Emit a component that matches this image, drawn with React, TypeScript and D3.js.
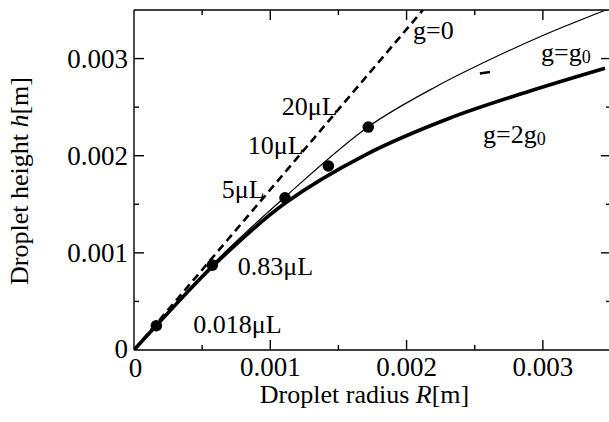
import React from "react";
import * as d3 from "d3";

// ---- data ----
const majorTicks = [0.001, 0.002, 0.003];
const minorTicks = [0.0005, 0.0015, 0.0025];
const tickLabels = ["0.001", "0.002", "0.003"];

// g = 0 (spherical cap, straight line)
const gZeroR = [0, 0.00212];
const gZeroH = [0, 0.0035];

// g = g0 (thin)
const gOneR = [0, 0.000161, 0.000572, 0.001108, 0.001717, 0.002245, 0.002575, 0.002979, 0.003471];
const gOneH = [0, 0.000247, 0.000875, 0.001575, 0.002296, 0.002733, 0.002965, 0.003225, 0.003505];

// g = 2g0 (thick)
const gTwoR = [0, 0.000161, 0.00058, 0.0011, 0.001695, 0.002319, 0.002884, 0.003456];
const gTwoH = [0, 0.000247, 0.000865, 0.001503, 0.002007, 0.002388, 0.002656, 0.0029];

// measured droplets
const dotR = [0.000164, 0.000575, 0.001108, 0.001426, 0.001719];
const dotH = [0.00025, 0.000874, 0.001566, 0.001894, 0.002295];
const dotLabels = ["0.018μL", "0.83μL", "5μL", "10μL", "20μL"];
const dotLabelR = [0.000435, 0.000762, 0.000644, 0.000835, 0.001084];
const dotLabelH = [0.000175, 0.000773, 0.00156, 0.00202, 0.00242];

// stray short mark
const strayR = [0.002538, 0.002612];
const strayH = [0.002846, 0.002862];

const W = 609;
const H = 422;
const FONT = '"Liberation Serif", "Times New Roman", Times, serif';

export default function App() {
  const x = d3.scaleLinear().domain([0, 0.0035]).range([134, 611]);
  const y = d3.scaleLinear().domain([0, 0.0035]).range([350, 10]);

  const mk = (R: number[], Hh: number[]) =>
    d3
      .line<number>()
      .x((_, i) => x(R[i]))
      .y((_, i) => y(Hh[i]))
      .curve(d3.curveCatmullRom.alpha(0.5))(R);

  const straight = (R: number[], Hh: number[]) =>
    d3
      .line<number>()
      .x((_, i) => x(R[i]))
      .y((_, i) => y(Hh[i]))(R);

  const left = x(0);
  const right = x(0.0035);
  const top = y(0.0035);
  const bottom = y(0);
  const ts = { fontFamily: FONT };

  return (
    <svg
      width={W}
      height={H}
      style={{ position: "absolute", left: 0, top: 0, background: "#fff", fontFamily: FONT }}
    >
      <defs>
        <clipPath id="plot">
          <rect x={left} y={top} width={right - left} height={bottom - top} />
        </clipPath>
      </defs>

      {/* frame */}
      <g stroke="#000" strokeWidth={1.4} fill="none">
        <line x1={left} y1={bottom} x2={right} y2={bottom} />
        <line x1={left} y1={top} x2={right} y2={top} />
        <line x1={left} y1={top} x2={left} y2={bottom} />
        <line x1={right} y1={top} x2={right} y2={bottom} />
        {majorTicks.map((t) => (
          <g key={"M" + t}>
            <line x1={x(t)} y1={bottom} x2={x(t)} y2={bottom - 10} />
            <line x1={x(t)} y1={top} x2={x(t)} y2={top + 10} />
            <line x1={left} y1={y(t)} x2={left + 10} y2={y(t)} />
            <line x1={right} y1={y(t)} x2={right - 10} y2={y(t)} />
          </g>
        ))}
        {minorTicks.map((t) => (
          <g key={"m" + t}>
            <line x1={x(t)} y1={bottom} x2={x(t)} y2={bottom - 5} />
            <line x1={x(t)} y1={top} x2={x(t)} y2={top + 5} />
            <line x1={left} y1={y(t)} x2={left + 5} y2={y(t)} />
            <line x1={right} y1={y(t)} x2={right - 5} y2={y(t)} />
          </g>
        ))}
      </g>

      {/* tick labels */}
      <g fontSize={27} fill="#000" style={ts}>
        {majorTicks.map((t, i) => (
          <text key={"xl" + t} x={x(t)} y={bottom + 26} textAnchor="middle" style={ts}>
            {tickLabels[i]}
          </text>
        ))}
        {majorTicks.map((t, i) => (
          <text key={"yl" + t} x={left - 6} y={y(t) + 9} textAnchor="end" style={ts}>
            {tickLabels[i]}
          </text>
        ))}
        <text x={left - 6} y={bottom + 8} textAnchor="end" style={ts}>0</text>
        <text x={left + 1.5} y={bottom + 27} textAnchor="middle" style={ts}>0</text>
      </g>

      {/* axis titles */}
      <text x={364.5} y={403} fontSize={26} textAnchor="middle" style={ts}>
        Droplet radius <tspan fontStyle="italic">R</tspan>[m]
      </text>
      <text
        transform={`translate(28,181) rotate(-90)`}
        fontSize={26}
        textAnchor="middle"
        style={ts}
      >
        Droplet height <tspan fontStyle="italic">h</tspan>[m]
      </text>

      {/* curves */}
      <g clipPath="url(#plot)" fill="none" stroke="#000">
        <path d={straight(gZeroR, gZeroH) || ""} strokeWidth={2.6} strokeDasharray="8,5" />
        <path d={mk(gOneR, gOneH) || ""} strokeWidth={1.2} />
        <path d={mk(gTwoR, gTwoH) || ""} strokeWidth={3.6} />
        <path d={straight(strayR, strayH) || ""} strokeWidth={2.6} />
      </g>

      {/* data points */}
      {dotR.map((r, i) => (
        <circle key={"d" + i} cx={x(r)} cy={y(dotH[i])} r={5.8} fill="#000" />
      ))}

      {/* annotations */}
      <g fontSize={26} fill="#000" style={ts}>
        {dotLabels.map((s, i) => (
          <text key={"dl" + i} x={x(dotLabelR[i])} y={y(dotLabelH[i])} style={ts}>
            {s}
          </text>
        ))}
        <text x={413} y={39} style={ts}>g=0</text>
        <text x={541} y={61} style={ts}>
          g=g<tspan fontSize={18} dy={2}>0</tspan>
        </text>
        <text x={483} y={143} style={ts}>
          g=2g<tspan fontSize={18} dy={2}>0</tspan>
        </text>
      </g>
    </svg>
  );
}
